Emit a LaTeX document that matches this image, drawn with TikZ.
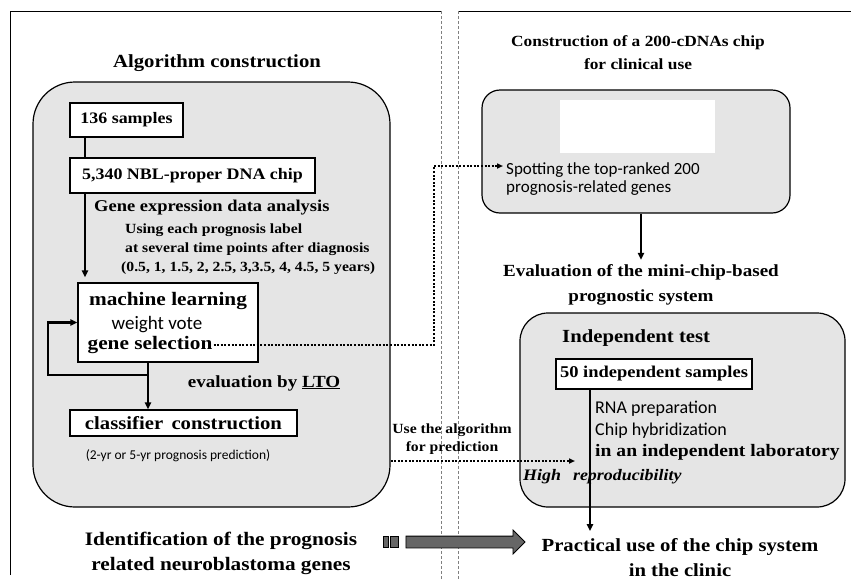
\documentclass[tikz,border=0pt]{standalone}
\usepackage{fontspec}
\setmainfont{Liberation Serif}[FakeStretch=1.12]
\newfontfamily\sansf{Carlito}
\usetikzlibrary{arrows.meta,shapes.arrows}

\tikzset{
  panel/.style={draw, fill=gray!20, line width=1.2pt, inner sep=0pt},
  stepbox/.style={draw, fill=white, line width=1.1pt, inner sep=0pt},
  flow/.style={line width=2.2pt, -{Triangle[length=7pt,width=6pt]}},
  dotflow/.style={line width=2pt, dash pattern=on 2pt off 1.6pt, -{Triangle[length=6pt,width=5pt]}},
  septline/.style={gray, line width=0.6pt, densely dashed},
}

\begin{document}
\begin{tikzpicture}[x=1pt,y=-1pt]
\useasboundingbox (0,0) rectangle (851,579);

\draw[line width=.8pt] (10,575) -- (10,11) -- (441,11);
\draw[line width=.8pt] (458,11) -- (851,11);
\draw[septline] (441,11) -- (441,579);
\draw[septline] (458,11) -- (458,579);

\begin{scope}[every node/.style={panel}]
  \node (alg)   [minimum width=357pt, minimum height=425pt, rounded corners=42pt] at (211.5,294.5) {};
  \node (spots) [minimum width=308pt, minimum height=123pt, rounded corners=18pt] at (636,151.5) {};
  \node (test)  [minimum width=325pt, minimum height=194pt, rounded corners=28pt] at (682.5,410) {};
\end{scope}
\node (blank) [fill=white, minimum width=155pt, minimum height=53pt] at (637.5,126.5) {};

\begin{scope}[every node/.style={stepbox}]
  \node (samples)    [minimum width=113pt, minimum height=34pt, font=\fontsize{16}{19}\selectfont\bfseries] at (126.5,120) {136 samples};
  \node (chip)       [minimum width=245pt, minimum height=35pt, font=\fontsize{16}{19}\selectfont\bfseries] at (192.5,175.5) {5,340 NBL-proper DNA chip};
  \node (ml)         [minimum width=180pt, minimum height=79pt] at (168,322.5) {};
  \node (classifier) [minimum width=227pt, minimum height=26pt, font=\fontsize{18.5}{20}\selectfont\bfseries] at (183.5,423) {classifier\, construction};
  \node (fifty)      [minimum width=196pt, minimum height=30pt, font=\fontsize{16.5}{19}\selectfont\bfseries] at (654,374) {50 independent samples};
\end{scope}

\begin{scope}[every node/.style={inner sep=1pt}]
  \node (algtitle) [font=\fontsize{18.5}{20}\selectfont\bfseries] at (217,63) {Algorithm construction};
  \node (gea) [anchor=west, font=\fontsize{16.5}{20}\selectfont\bfseries] at (93,208) {Gene expression data analysis};
  \node (label) [anchor=west, align=left, font=\fontsize{14}{19}\selectfont\bfseries] at (120,249)
    {\hspace{4pt}Using each prognosis label\\\hspace{4pt}at several time points after diagnosis\\(0.5, 1, 1.5, 2, 2.5, 3,3.5, 4, 4.5, 5 years)};
  \node (mltitle) [font=\fontsize{19}{22}\selectfont\bfseries] at (168,301) {machine learning};
  \node (vote) [font=\sansf\fontsize{19}{22}\selectfont] at (157,325) {weight vote};
  \node (gene) [font=\fontsize{19}{22}\selectfont\bfseries] at (150,345) {gene selection};
  \node (lto) [font=\fontsize{17}{20}\selectfont\bfseries] at (264,383) {evaluation by \underline{LTO}};
  \node (pred) [font=\sansf\fontsize{13.5}{16}\selectfont] at (178,456) {(2-yr or 5-yr prognosis prediction)};
  \node (ident) [align=center, font=\fontsize{19}{25}\selectfont\bfseries] at (221,553) {Identification of the prognosis\\related neuroblastoma genes};
  \node (usetxt) [align=center, font=\fontsize{14}{18}\selectfont\bfseries] at (452,439) {Use the algorithm\\for prediction};

  \node (constr) [align=center, font=\fontsize{15.5}{23}\selectfont\bfseries] at (638,53) {Construction of a 200-cDNAs chip\\for clinical use};
  \node (spottxt) [anchor=west, align=left, font=\sansf\fontsize{17}{18}\selectfont] at (505,179) {Spotting the top-ranked 200\\prognosis-related genes};
  \node (eval) [align=center, font=\fontsize{17}{25}\selectfont\bfseries] at (641,284.5) {Evaluation of the mini-chip-based\\prognostic system};
  \node (indtitle) [anchor=west, font=\fontsize{18.5}{22}\selectfont\bfseries] at (561,338) {Independent test};
  \node (rna) [anchor=west, font=\sansf\fontsize{18}{21}\selectfont] at (594,409) {RNA preparation};
  \node (hyb) [anchor=west, font=\sansf\fontsize{18}{21}\selectfont] at (594,431) {Chip hybridization};
  \node (lab) [anchor=west, font=\fontsize{17.5}{20}\selectfont\bfseries] at (594,452) {in an independent laboratory};
  \node (high) [anchor=west, font=\fontsize{16}{20}\selectfont\bfseries\itshape] at (522,477) {High\hspace{12pt}reproducibility};
  \node (practical) [align=center, font=\fontsize{18.5}{25}\selectfont\bfseries] at (680,557.5) {Practical use of the chip system\\in the clinic};
\end{scope}

\begin{scope}[every node/.style={fill=black!60, draw=black, line width=0.8pt, inner sep=0pt}]
  \node (sq1) [minimum width=5pt, minimum height=11pt] at (385.5,542) {};
  \node (sq2) [minimum width=8pt, minimum height=11pt] at (394,542) {};
  \node (bigarrow) [single arrow, single arrow head extend=6pt, single arrow head indent=0pt, minimum height=119pt] at (462.5,542) {\rule{0pt}{11pt}};
\end{scope}

\coordinate (spine) at (85,0);
\coordinate (split) at (148,375);
\coordinate (back)  at (48,375);
\coordinate (turn)  at (434,0);
\coordinate (spotin) at (503,166);
\coordinate (usein) at (575,461);
\coordinate (drop)  at (590,0);

\draw[line width=2.2pt] (samples.south -| spine) -- (chip.north -| spine);
\draw[flow, shorten >=5pt] (chip.south -| spine) -- (ml.north -| spine);
\draw[flow] (ml.south -| split) -- (split) -- (back) |- (ml.west);
\draw[flow] (split) -- (classifier.north -| split);
\draw[dotflow] (gene.east) -- (gene.east -| turn) |- (spotin);
\draw[dotflow] (usein -| alg.east) -- (usein);
\draw[flow, shorten >=3pt] (eval.north |- spots.south) -- (eval.north);
\draw[flow, shorten >=6pt] (fifty.south -| drop) -- (practical.north -| drop);

\end{tikzpicture}
\end{document}
